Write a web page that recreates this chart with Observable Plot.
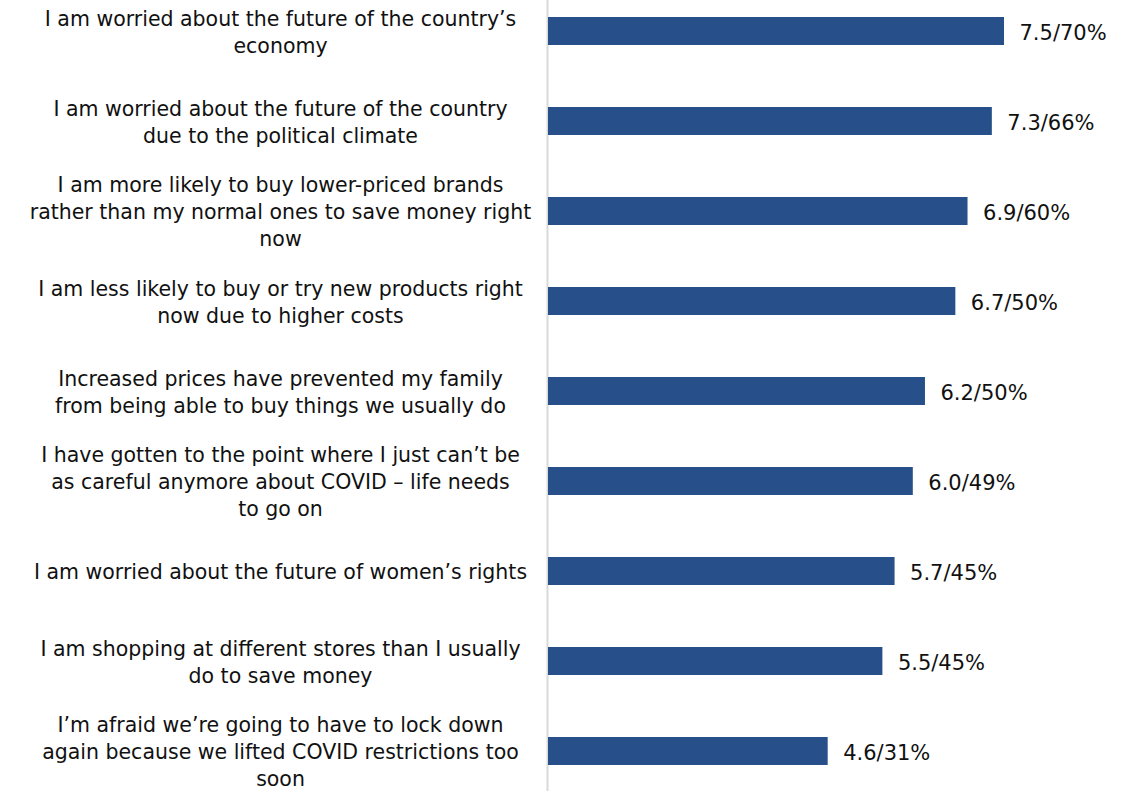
<!DOCTYPE html>
<html>
<head>
<meta charset="utf-8">
<script src="https://cdn.jsdelivr.net/npm/d3@7"></script>
<script src="https://cdn.jsdelivr.net/npm/@observablehq/plot@0.6"></script>
<style>
  html, body { margin: 0; padding: 0; background: #fff; }
  #chart svg { display: block; }
</style>
</head>
<body>
<div id="chart"></div>
<script>
const statements = [
  "I am worried about the future of the country’s\neconomy",
  "I am worried about the future of the country\ndue to the political climate",
  "I am more likely to buy lower-priced brands\nrather than my normal ones to save money right\nnow",
  "I am less likely to buy or try new products right\nnow due to higher costs",
  "Increased prices have prevented my family\nfrom being able to buy things we usually do",
  "I have gotten to the point where I just can’t be\nas careful anymore about COVID – life needs\nto go on",
  "I am worried about the future of women’s rights",
  "I am shopping at different stores than I usually\ndo to save money",
  "I’m afraid we’re going to have to lock down\nagain because we lifted COVID restrictions too\nsoon"
];
const means = [7.5, 7.3, 6.9, 6.7, 6.2, 6.0, 5.7, 5.5, 4.6];
const percents = [70, 66, 60, 50, 50, 49, 45, 45, 31];

const rows = statements.map((s, i) => ({
  statement: s,
  mean: means[i],
  label: `${means[i].toFixed(1)}/${percents[i]}%`
}));

const chart = Plot.plot({
  width: 1134,
  height: 791,
  marginLeft: 548,
  marginRight: 130,
  marginTop: 0,
  marginBottom: 0,
  style: { fontFamily: "'DejaVu Sans', sans-serif", background: "#fff" },
  x: { domain: [0, 7.5], axis: null },
  y: { domain: statements, axis: null, paddingInner: 0.69, paddingOuter: 0.22, align: 0.4 },
  marks: [
    Plot.ruleX([0], { stroke: "#d9d9d9", strokeWidth: 2, dx: -1 }),
    Plot.barX(rows, { x: "mean", y: "statement", fill: "#27508a" }),
    Plot.text(rows, {
      x: "mean", y: "statement", text: "label",
      textAnchor: "start", dx: 15, dy: 2,
      fontSize: 21, letterSpacing: "0.8px", fill: "#111"
    }),
    Plot.text(rows, {
      x: 0, y: "statement", text: "statement",
      textAnchor: "middle", dx: -268, dy: -1,
      fontSize: 20.5, lineHeight: 1.33, fill: "#111"
    })
  ]
});
document.getElementById("chart").appendChild(chart);
</script>
</body>
</html>
